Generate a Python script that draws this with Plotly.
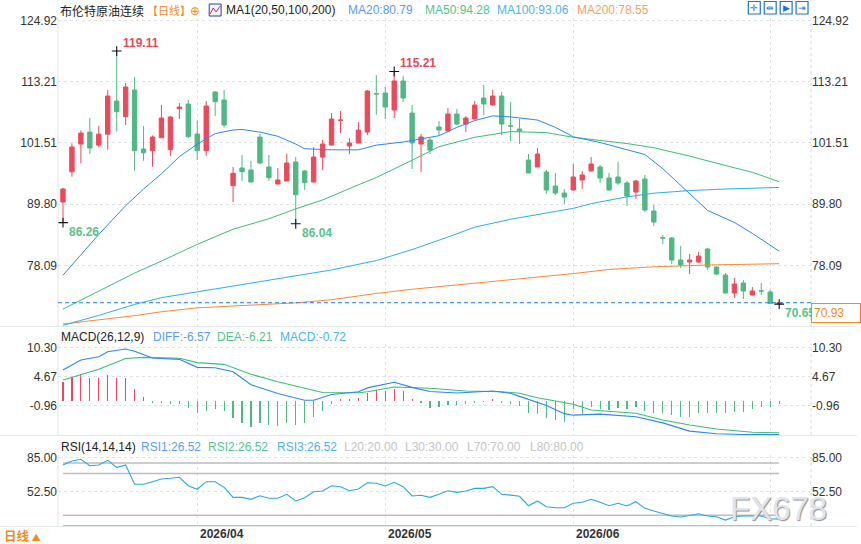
import plotly.graph_objects as go

# ---------------- data ----------------
idx = list(range(81))
open_ = [90.2, 96.0, 101.3, 103.6, 101.1, 103.2, 109.55, 106.55, 111.65, 100.36,
         100.04, 102.53, 100.23, 108.08, 108.97, 103.23, 100.04, 111.27, 109.74, 93.34,
         96.72, 96.34, 102.65, 96.91, 93.66, 94.23, 97.87, 96.14, 94.04, 98.82,
         101.12, 105.8, 100.93, 101.5, 103.61, 110.95, 111.08, 107.82, 113.38, 107.25,
         101.31, 102.08, 104.57, 103.8, 107.06, 105.14, 106.1, 110.12, 108.78, 110.5,
         104.8, 104.19, 98.25, 96.91, 95.95, 93.27, 91.93, 92.51, 94.42, 96.14,
         96.91, 94.8, 95.0, 93.85, 92.12, 94.61, 88.49, 83.4, 83.32, 79.1,
         78.72, 78.72, 81.21, 77.76, 76.23, 72.79, 74.70, 72.40, 73.2, 72.98,
         70.75]
high = [92.9, 101.45, 103.9, 106.3, 104.8, 111.65, 119.11, 113.0, 114.14, 104.76,
        102.97, 108.78, 106.67, 109.16, 109.74, 105.78, 109.55, 111.46, 111.65, 96.91,
        99.21, 98.06, 103.23, 99.21, 96.72, 99.46, 98.82, 96.34, 100.74, 102.08,
        107.25, 107.63, 102.46, 105.53, 111.65, 114.52, 112.23, 115.21, 114.33, 108.78,
        103.23, 102.46, 105.72, 108.21, 108.02, 106.67, 109.55, 112.61, 111.65, 111.27,
        109.36, 106.1, 99.4, 100.55, 96.34, 95.76, 92.70, 97.48, 96.14, 98.82,
        97.29, 95.76, 97.87, 94.23, 94.42, 95.38, 89.63, 83.89, 83.51, 81.78,
        80.25, 80.64, 81.4, 77.95, 76.62, 75.66, 75.27, 73.93, 74.70, 73.36,
        70.93]
low = [86.26, 95.05, 97.6, 99.4, 100.7, 100.2, 103.7, 104.95, 96.2, 98.1,
       96.97, 102.5, 99.0, 106.1, 102.46, 98.25, 99.0, 106.67, 104.5, 90.21,
       94.23, 94.0, 97.48, 94.23, 93.6, 94.2, 86.04, 92.51, 94.0, 96.34,
       101.1, 103.42, 99.4, 101.4, 103.04, 106.87, 106.1, 106.29, 109.36, 96.53,
       95.95, 99.4, 103.04, 103.7, 105.0, 103.61, 106.0, 106.87, 108.7, 103.04,
       101.89, 101.31, 95.7, 96.9, 91.74, 91.55, 89.83, 92.4, 92.70, 96.1,
       93.85, 92.4, 93.46, 89.44, 90.78, 88.29, 85.61, 82.17, 78.34, 77.57,
       76.42, 78.6, 77.19, 76.23, 72.7, 71.83, 71.64, 72.3, 72.40, 70.70,
       70.65]
close = [92.7, 100.74, 103.4, 100.55, 103.2, 110.5, 107.5, 112.23, 100.04, 99.65,
         102.65, 106.29, 106.48, 108.4, 102.72, 100.04, 108.59, 109.42, 104.95, 95.70,
         96.02, 94.04, 97.68, 94.87, 94.42, 97.68, 91.61, 93.91, 98.82, 101.31,
         106.1, 105.91, 101.5, 103.99, 111.46, 110.89, 108.40, 113.38, 110.12, 101.5,
         102.65, 100.17, 103.99, 107.06, 105.14, 106.29, 108.78, 108.97, 110.5, 105.14,
         104.76, 103.8, 95.76, 99.4, 92.51, 91.93, 91.17, 95.0, 95.38, 97.48,
         94.8, 92.51, 93.85, 91.36, 94.23, 88.68, 86.38, 83.32, 79.1, 78.15,
         79.1, 79.87, 77.76, 76.42, 72.79, 74.51, 73.17, 73.17, 73.17, 70.75,
         70.93]

# moving averages read at sample candles
ma20_x = [0, 2, 4, 7, 9, 11, 13, 15, 17, 19, 20, 22, 24, 26, 27, 30, 33, 35, 38, 42,
          44, 46, 48, 50, 53, 55, 57, 60, 63, 65, 67, 70, 72, 75, 77, 80]
ma20_y = [76.2, 80.1, 84.0, 89.5, 92.7, 95.6, 98.9, 101.3, 103.3, 104.0, 104.1, 103.6,
          102.8, 101.3, 100.4, 100.2, 100.2, 101.1, 101.7, 102.9, 104.5, 105.8, 106.7,
          106.5, 105.9, 104.5, 102.7, 101.6, 100.2, 99.3, 96.6, 91.9, 88.6, 86.3, 84.2, 80.79]
ma50_x = [0, 4, 8, 11, 15, 19, 23, 26, 29, 33, 35, 39, 42, 46, 50, 54, 57, 59, 63, 66,
          70, 74, 77, 80]
ma50_y = [69.7, 73.2, 76.6, 78.9, 82.1, 85.0, 87.0, 88.9, 90.6, 93.5, 94.9, 98.2, 100.8,
          102.6, 103.7, 103.5, 102.6, 102.2, 101.4, 100.6, 99.0, 97.2, 95.9, 94.1]
ma100_x = [0, 4, 8, 11, 15, 19, 23, 26, 30, 35, 39, 43, 46, 50, 54, 57, 59, 63, 66, 70,
           74, 77, 80]
ma100_y = [66.6, 68.5, 70.6, 71.9, 73.0, 74.1, 75.2, 76.0, 77.2, 79.0, 81.1, 83.5, 85.4,
           86.9, 88.1, 89.0, 89.9, 91.2, 91.9, 92.4, 92.7, 92.9, 93.0]
ma200_x = [0, 4, 8, 11, 15, 19, 23, 26, 30, 35, 39, 43, 46, 50, 54, 57, 61, 66, 72, 76, 80]
ma200_y = [66.85, 67.6, 68.45, 69.2, 69.95, 70.3, 70.7, 70.9, 71.5, 72.7, 73.5, 74.15,
           74.6, 75.3, 75.95, 76.5, 77.3, 77.8, 78.15, 78.3, 78.4]
ma_last = [80.79, 94.28, 93.06, 78.55]

# MACD (DIFF / DEA read at sample candles, histogram per candle)
diff_x = [0, 2, 4, 5, 7, 8, 10, 13, 15, 17, 19, 21, 24, 27, 28, 30, 33, 34, 37, 38, 39,
          41, 44, 48, 50, 51, 54, 56, 57, 60, 64, 67, 70, 73, 76, 80]
diff_y = [5.97, 7.9, 8.55, 9.5, 10.05, 9.6, 8.3, 8.04, 6.49, 6.42, 5.64, 3.1, 1.4, 0.09,
          0.09, 1.2, 1.76, 2.5, 3.58, 3.1, 2.6, 1.8, 1.5, 1.89, 1.45, 0.85, -0.9, -2.5,
          -2.8, -2.6, -3.1, -4.3, -5.9, -6.4, -6.55, -6.57]
dea_x = [0, 2, 4, 7, 9, 13, 15, 18, 21, 24, 29, 33, 34, 37, 41, 45, 49, 51, 53, 57, 59,
         64, 67, 70, 73, 77, 80]
dea_y = [4.03, 5.0, 6.1, 8.2, 8.43, 8.24, 7.4, 7.07, 5.14, 3.7, 1.6, 1.56, 1.76, 2.67,
         2.42, 1.89, 1.76, 1.45, 0.59, -0.69, -1.79, -2.44, -3.74, -4.71, -5.48, -6.12, -6.21]
macd_hist = [3.69, 4.53, 5.11, 4.47, 4.34, 4.92, 4.34, 4.34, 2.2, 0.65,
             -0.39, -0.52, -0.65, -0.65, -1.36, -2.33, -1.94, -1.55, -1.94, -3.43,
             -4.27, -5.05, -4.27, -4.72, -4.85, -4.4, -4.72, -4.27, -3.24, -2.0,
             -0.65, 0.26, 0.26, 0.45, 1.55, 2.07, 1.88, 2.2, 1.81, 0.39,
             -0.52, -1.36, -1.29, -0.84, -0.84, -0.71, -0.52, -0.26, 0.26, -0.52,
             -0.65, -1.04, -2.46, -2.59, -3.43, -3.75, -4.14, -1.68, -2.59, -1.29,
             -1.68, -1.81, -1.49, -1.68, -1.16, -1.94, -2.33, -2.46, -2.78, -3.24,
             -3.11, -2.46, -2.46, -2.33, -2.46, -2.14, -2.14, -1.68, -1.16, -1.16,
             -0.72]

# RSI (RSI1 = RSI2 = RSI3 here)
rsi = [78.0, 81.85, 83.5, 77.35, 78.0, 82.5, 75.8, 78.0, 59.55, 59.55,
       62.05, 64.6, 65.3, 66.25, 58.2, 54.8, 62.05, 62.05, 56.7, 47.1,
       47.1, 45.2, 48.65, 46.2, 46.2, 50.0, 43.6, 46.75, 52.5, 53.1,
       58.2, 57.3, 53.45, 55.1, 61.1, 60.5, 57.95, 61.45, 57.3, 48.4,
       49.05, 47.1, 50.0, 53.45, 51.9, 53.15, 55.7, 55.7, 57.3, 50.0,
       49.2, 48.1, 39.1, 43.6, 38.15, 37.2, 37.2, 41.4, 42.35, 45.2,
       42.35, 39.1, 41.4, 38.8, 42.9, 36.6, 34.0, 31.8, 29.3, 28.3,
       29.55, 31.45, 29.3, 28.6, 25.4, 28.6, 29.3, 29.3, 29.3, 26.4,
       26.52]
rsi_levels = [20, 30, 70, 80]

price_ticks = [124.92, 113.21, 101.51, 89.80, 78.09]
macd_ticks = [10.30, 4.67, -0.96]
rsi_ticks = [85.00, 52.50]
month_grid = [15, 36, 57, 79]
month_idx = [15, 36, 57]
month_text = ["2026/04", "2026/05", "2026/06"]

hi_marks = [6, 37]
lo_marks = [0, 26, 80]

# ---------------- styling / layout ----------------
W, H = 861, 544
ML, MR, MT, MB = 58, 46, 18, 18
PW = W - ML - MR
PH = H - MT - MB
BOT = H - MB  # 526


def px(x):
    return (x - ML) / PW


def py(y):
    return (BOT - y) / PH


RED = "#ec4a5c"
GREEN = "#4fb884"
C_MA20 = "#2d87f0"
C_MA50 = "#3cbd7a"
C_MA100 = "#2eaee6"
C_MA200 = "#f7893a"
ORANGE = "#f08c1e"
LAT = "Liberation Sans, Arial, sans-serif"
CJK = "Noto Sans CJK SC, sans-serif"

price_rng = [66.47, 125.44]
macd_rng = [-6.65, 11.02]
rsi_rng = [19.7, 87.58]
x_rng = [-0.556, 83.556]

fig = go.Figure()

fig.add_trace(go.Candlestick(
    x=idx, open=open_, high=high, low=low, close=close, xaxis="x", yaxis="y",
    increasing=dict(line=dict(color=RED, width=1), fillcolor=RED),
    decreasing=dict(line=dict(color=GREEN, width=1), fillcolor=GREEN),
    whiskerwidth=0, hoverinfo="skip", showlegend=False))

for xs, ys, c in [(ma200_x, ma200_y, C_MA200), (ma100_x, ma100_y, C_MA100),
                  (ma50_x, ma50_y, C_MA50), (ma20_x, ma20_y, C_MA20)]:
    fig.add_trace(go.Scatter(x=xs, y=ys, mode="lines", line=dict(color=c, width=1),
                             xaxis="x", yaxis="y4", hoverinfo="skip", showlegend=False))

# high / low markers
mk_x = hi_marks + lo_marks
mk_y = [high[i] for i in hi_marks] + [low[i] for i in lo_marks]
fig.add_trace(go.Scatter(x=mk_x, y=mk_y, mode="markers", xaxis="x", yaxis="y4",
                         marker=dict(symbol="cross-thin", size=7,
                                     line=dict(color="#111", width=1.1)),
                         hoverinfo="skip", showlegend=False))

# MACD
fig.add_trace(go.Bar(x=idx, y=macd_hist, width=0.13, xaxis="x2", yaxis="y2",
                     marker=dict(color=[RED if v > 0 else GREEN for v in macd_hist],
                                 line=dict(width=0)),
                     hoverinfo="skip", showlegend=False))
fig.add_trace(go.Scatter(x=dea_x, y=dea_y, mode="lines", line=dict(color=C_MA50, width=1.1),
                         xaxis="x2", yaxis="y5", hoverinfo="skip", showlegend=False))
fig.add_trace(go.Scatter(x=diff_x, y=diff_y, mode="lines", line=dict(color=C_MA20, width=1.1),
                         xaxis="x2", yaxis="y5", hoverinfo="skip", showlegend=False))

# RSI
for lv in rsi_levels:
    fig.add_trace(go.Scatter(x=[idx[0], idx[-1]], y=[lv, lv], mode="lines",
                             line=dict(color="#bdbdbd", width=1.5), xaxis="x3", yaxis="y3",
                             hoverinfo="skip", showlegend=False))
fig.add_trace(go.Scatter(x=idx, y=rsi, mode="lines", line=dict(color="#2aa9e2", width=1.1),
                         xaxis="x3", yaxis="y6", hoverinfo="skip", showlegend=False))

tickfont = dict(family=LAT, size=12, color="#333")
xcommon = dict(range=x_rng, tickvals=month_grid, showticklabels=False, showgrid=True,
               griddash="dot", gridcolor="#e2e2e2", gridwidth=1, zeroline=False,
               showline=False, ticks="", fixedrange=True)
grid = dict(showgrid=True, griddash="dot", gridcolor="#e2e2e2", gridwidth=1)


def yax(rng, ticks, dom, side, overlay=None, anchor="x"):
    d = dict(range=rng, tickvals=ticks, ticktext=["%.2f" % t for t in ticks], side=side,
             tickfont=tickfont, zeroline=False, showline=False, ticks="", fixedrange=True)
    if overlay:
        d.update(overlaying=overlay, anchor=anchor, showgrid=False)
    else:
        d.update(domain=dom, anchor=anchor, **grid)
    return d


dom_p = [py(326), py(MT)]
dom_m = [py(435), py(344)]
dom_r = [0, py(455)]

fig.update_layout(
    width=W, height=H, margin=dict(l=ML, r=MR, t=MT, b=MB),
    paper_bgcolor="white", plot_bgcolor="white", showlegend=False,
    bargap=0,
    xaxis=dict(anchor="y", domain=[0, 1], rangeslider=dict(visible=False), **xcommon),
    xaxis2=dict(anchor="y2", domain=[0, 1], matches="x", **xcommon),
    xaxis3=dict(anchor="y3", domain=[0, 1], matches="x", **xcommon),
    yaxis=yax(price_rng, price_ticks, dom_p, "left", anchor="x"),
    yaxis2=yax(macd_rng, macd_ticks, dom_m, "left", anchor="x2"),
    yaxis3=yax(rsi_rng, rsi_ticks, dom_r, "left", anchor="x3"),
    yaxis4=yax(price_rng, price_ticks, None, "right", overlay="y", anchor="x"),
    yaxis5=yax(macd_rng, macd_ticks, None, "right", overlay="y2", anchor="x2"),
    yaxis6=yax(rsi_rng, rsi_ticks, None, "right", overlay="y3", anchor="x3"),
)

shapes = []
# panel borders
for y0, y1 in [(18, 326), (344, 435), (455, 526)]:
    shapes.append(dict(type="line", xref="paper", yref="paper", x0=0, x1=0,
                       y0=py(y1), y1=py(y0), line=dict(color="#e4e4e4", width=1)))
    shapes.append(dict(type="line", xref="paper", yref="paper", x0=1, x1=1,
                       y0=py(y1), y1=py(y0), line=dict(color="#d8d8d8", width=1, dash="dot")))
# panel separators
for ys in [326.5, 435.5, 526.5]:
    shapes.append(dict(type="line", xref="paper", yref="paper", x0=px(0), x1=px(W),
                       y0=py(ys), y1=py(ys), line=dict(color="#e3e8ea", width=1)))
# current price dashed line
shapes.append(dict(type="line", xref="paper", yref="y", x0=0, x1=1, y0=close[-1], y1=close[-1],
                   line=dict(color="#1f7ff0", width=1, dash="4px,3px")))
# header icon (MA)
shapes.append(dict(type="rect", xref="paper", yref="paper", x0=px(210), x1=px(222),
                   y0=py(16), y1=py(4), line=dict(color="#22459a", width=1), fillcolor="#eef3ff"))
shapes.append(dict(type="path", xref="paper", yref="paper",
                   path="M %f %f L %f %f L %f %f L %f %f" % (px(211), py(14), px(214), py(8),
                                                           px(217), py(12), px(221), py(6)),
                   line=dict(color="#e0303c", width=1)))
# top-right tool icons
icon_x = [752, 768, 784, 800]
for ix in icon_x:
    shapes.append(dict(type="rect", xref="paper", yref="paper", x0=px(ix), x1=px(ix + 12),
                       y0=py(14), y1=py(1.5), line=dict(color="#1f74d0", width=1.2),
                       fillcolor="white"))
fig.update_layout(shapes=shapes)

ann = []


def txt(s, x, y, color, size=12, family=LAT, xanchor="left", bold=False, **kw):
    ann.append(dict(text=("<b>%s</b>" % s) if bold else s, x=px(x), y=py(y), xref="paper",
                    yref="paper", xanchor=xanchor, yanchor="middle", showarrow=False,
                    font=dict(family=family, size=size, color=color), **kw))


# price header
txt("布伦特原油连续", 59, 10, "#222", 12, CJK, borderpad=0)
txt("【日线】", 146, 10, ORANGE, 11, CJK, borderpad=0)
txt("⊕", 196, 10.5, ORANGE, 12, LAT, xanchor="center", borderpad=0)
txt("MA1(20,50,100,200)", 225, 10, "#222", 12)
ma_names = ["MA20", "MA50", "MA100", "MA200"]
ma_hcol = ["#5a9cf5", "#55c48c", "#4ab4ea", "#f6a163"]
for nm, v, c, x0 in zip(ma_names, ma_last, ma_hcol, [348, 425, 497, 578]):
    txt("%s:%.2f" % (nm, v), x0, 10, c, 12)
icon_glyph = ["✛", "⇹", "▶", "⇥"]
for ix, g in zip(icon_x, icon_glyph):
    txt(g, ix + 6, 8, "#1f74d0", 9, LAT, xanchor="center")

# MACD header
txt("MACD(26,12,9)", 59, 336.7, "#222", 12)
txt("DIFF:%.2f" % diff_y[-1], 151, 336.7, "#5a9cf5", 12)
txt("DEA:%.2f" % dea_y[-1], 216, 336.7, "#55c48c", 12)
txt("MACD:%.2f" % macd_hist[-1], 279, 336.7, "#4ab4ea", 12)

# RSI header
txt("RSI(14,14,14)", 59, 446.7, "#222", 12)
txt("RSI1:%.2f" % rsi[-1], 139, 446.7, "#5a9cf5", 12)
txt("RSI2:%.2f" % rsi[-1], 207, 446.7, "#55c48c", 12)
txt("RSI3:%.2f" % rsi[-1], 276, 446.7, "#4ab4ea", 12)
for lv, x0 in zip(rsi_levels, [344, 405, 467, 530]):
    txt("L%d:%.2f" % (lv, lv), x0, 446.7, "#c4c4c4", 12)

# bottom-left
txt("日线 <span style='font-size:9px'>▲</span>", 2, 535.5, ORANGE, 12.5, CJK, bold=True)

# date labels
for i, t in zip(month_idx, month_text):
    ann.append(dict(text="<b>%s</b>" % t, x=i, y=py(534), xref="x3", yref="paper",
                    xanchor="left", yanchor="middle", xshift=1, showarrow=False,
                    font=dict(family=LAT, size=12, color="#333")))

# high / low labels
for i in hi_marks:
    ann.append(dict(text="<b>%.2f</b>" % high[i], x=i, y=high[i], xref="x", yref="y",
                    xanchor="left", yanchor="middle", xshift=4, yshift=8, showarrow=False,
                    font=dict(family=LAT, size=12, color="#e8485a")))
for i in lo_marks:
    ann.append(dict(text="<b>%.2f</b>" % low[i], x=i, y=low[i], xref="x", yref="y",
                    xanchor="left", yanchor="middle", xshift=4, yshift=-9, showarrow=False,
                    font=dict(family=LAT, size=12, color="#5cbf8d")))

# current price box
ann.append(dict(text="%.2f " % close[-1], x=1.0, y=close[-1], xref="paper", yref="y",
                xanchor="left", yanchor="top", showarrow=False, bgcolor="white",
                bordercolor=ORANGE, borderwidth=1, borderpad=2, width=44, align="left",
                font=dict(family=LAT, size=12, color=ORANGE)))

# watermark
ann.append(dict(text="FX678", x=px(782), y=py(508), xref="paper", yref="paper",
                xanchor="center", yanchor="middle", showarrow=False,
                font=dict(family=LAT, size=33, color="#dfe5ee", shadow="1px 1px 1px #8f8f8f")))

fig.update_layout(annotations=ann)

fig.write_html("out.html", include_plotlyjs=True, config=dict(staticPlot=True))
